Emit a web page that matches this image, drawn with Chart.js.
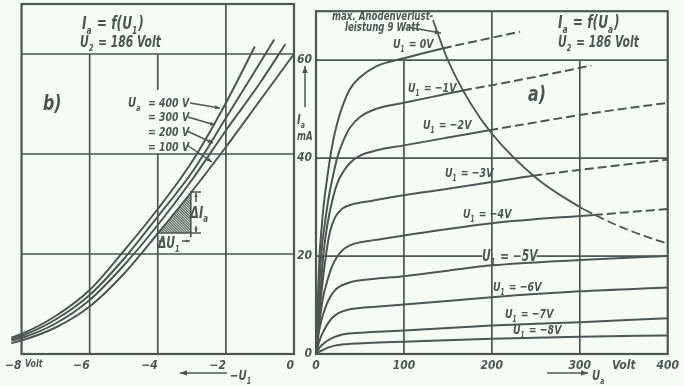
<!DOCTYPE html>
<html><head><meta charset="utf-8">
<script src="https://cdn.jsdelivr.net/npm/chart.js@4.4.0/dist/chart.umd.min.js"></script>
<style>
html,body{margin:0;padding:0;background:#f7fbf5;}
#wrap{position:relative;width:684px;height:386px;overflow:hidden;background:#f7fbf5;}
canvas{position:absolute;left:0;top:0;}
</style></head><body>
<div id="wrap"><canvas id="cb" width="684" height="386"></canvas><canvas id="ca" width="684" height="386"></canvas></div>
<script>
// ---------- Panel b): Ia = f(U1), curves for Ua (V) ----------
const b_Ua = [400, 300, 200, 100];
const b_400 = [[-8.3,3.3],[-8,4.0],[-7,7.6],[-6,12.8],[-5,20.6],[-4,29.0],[-3,38.4],[-2,50.2],[-1.15,61.5]];
const b_300 = [[-8.3,3.0],[-8,3.6],[-7,6.9],[-6,11.8],[-5,19.0],[-4,27.5],[-3,36.3],[-2,47.2],[-1,58.2],[-0.58,62.9]];
const b_200 = [[-8.3,2.7],[-8,3.2],[-7,6.1],[-6,10.8],[-5,17.7],[-4,25.8],[-3,34.8],[-2,44.7],[-1,54.2],[-0.25,62.0]];
const b_100 = [[-8.3,2.2],[-8,2.7],[-7,5.3],[-6,9.5],[-5,16.0],[-4,24.1],[-3,32.5],[-2,41.4],[-1,50.7],[0,60.0]];
const b_triangle = [[-4,24.2],[-3.03,24.2],[-3.03,32.4]];
const b_xticks = [-8,-6,-4,-2,0];
const b_xtickLabels = ['\u22128','\u22126','\u22124','\u22122','0'];

// ---------- Panel a): Ia = f(Ua), curves for U1 (V) ----------
const a_U1 = [0,-1,-2,-3,-4,-5,-6,-7,-8];
const a_0V  = [[0,0],[2,11],[4,20],[6,25],[9,30.8],[12,35],[16,40],[20,44],[24,47],[29,50],[38.6,54.1],[50,56.5],[69,58.8],[100,60.4],[144,62.4],[190,64.2],[232,65.8]];
const a_m1V = [[0,0],[3,11],[6,20.5],[10,26.5],[14,31.5],[19.5,36.5],[24,40],[31,43.5],[38.6,46.2],[50,48.4],[69,50.1],[100,51.3],[140,52.8],[167,53.8],[200,54.9],[250,56.6],[313,58.9]];
const a_m2V = [[0,0],[4,10],[8.7,20.8],[13,26.5],[19.7,32.2],[25,35.2],[31,37.2],[38.6,39.0],[50,40.5],[69,41.6],[100,42.6],[150,44.2],[197,45.7],[250,47.3],[300,48.8],[400,51.3]];
const a_m3V = [[0,0],[4,8.5],[8,15.5],[12,21],[16,25],[22,28],[30,29.7],[42,30.6],[64,31.3],[100,32.4],[141,33.5],[200,35.1],[247,36.4],[300,37.6],[400,39.7]];
const a_m4V = [[0,0],[4,6.5],[8,11.5],[13.8,15.5],[18,17.8],[23.5,19.7],[30,21.2],[38.6,22.2],[50,22.8],[64,23.2],[100,24.2],[200,26.7],[316,28.4],[400,29.6]];
const a_m5V = [[0,0],[3,4.2],[6,6.8],[9,8.6],[12,10.1],[16,11.6],[21,12.9],[27,13.8],[35,14.4],[42,14.8],[64,15.3],[100,15.9],[150,17.0],[200,18.1],[300,19.2],[400,20.0]];
const a_m6V = [[0,0],[3,2.2],[6,3.7],[9,4.8],[13,6.1],[18.6,7.4],[25,8.3],[35,9.0],[50,9.4],[64,9.6],[100,10.1],[200,11.6],[300,12.8],[400,13.6]];
const a_m7V = [[0,0],[4,1.3],[8,2.0],[13,2.7],[20,3.4],[30,4.0],[45,4.3],[64,4.5],[100,4.8],[200,5.8],[300,6.5],[400,7.3]];
const a_m8V = [[0,0],[4,0.5],[9,0.9],[15,1.4],[23.5,1.8],[40,2.1],[64,2.3],[100,2.5],[200,3.1],[300,3.5],[400,3.8]];
// Ua where each curve crosses the 9 W dissipation limit (dashed beyond)
const a_dashFrom = [144, 167, 197, 247, 316, null, null, null, null];
// max. anode dissipation 9 W
const a_limit = [[133,68.2],[150,60],[175,51.4],[200,45],[250,36],[300,30],[305,29.5],[350,25.7],[400,22.5],[414,21.7]];
const a_limitDashFrom = 305;
const a_xticks = [0,100,200,300,350,400];
const a_xtickLabels = ['0','100','200','300','Volt','400'];
const a_yticks = [0,20,40,60];
const a_ytickLabels = ['0','20','40','60'];

// ---------- styling ----------
const INK = '#4e5654';
const FAMILY = '"DejaVu Sans Condensed", "DejaVu Sans", sans-serif';
const tickFont = {family: FAMILY, style: 'italic', weight: 'bold', size: 12};

function toXY(arr){ return arr.map(p => ({x: p[0], y: p[1]})); }
function curveDS(pts, dashFrom, width){
  const ds = {data: toXY(pts), borderColor: INK, borderWidth: width || 2, pointRadius: 0,
    cubicInterpolationMode: 'monotone', clip: false, fill: false};
  if (dashFrom != null) ds.segment = {borderDash: c => c.p0.parsed.x >= dashFrom - 1e-6 ? [9,4] : undefined};
  return ds;
}

function rich(ctx, str, x, y, size, sx){
  sx = sx || 0.8;
  const parts = [];
  for (let i = 0; i < str.length; i++){
    if (str[i] === '_'){ parts.push({t: str[i+1], sub: true}); i++; }
    else if (parts.length && !parts[parts.length-1].sub) parts[parts.length-1].t += str[i];
    else parts.push({t: str[i], sub: false});
  }
  ctx.save();
  ctx.translate(x, y); ctx.scale(sx, 1);
  ctx.fillStyle = INK; ctx.textBaseline = 'alphabetic'; ctx.textAlign = 'left';
  let cx = 0;
  for (const p of parts){
    const fs = p.sub ? size * 0.62 : size;
    ctx.font = 'italic bold ' + fs + 'px ' + FAMILY;
    ctx.fillText(p.t, cx, p.sub ? size * 0.28 : 0);
    cx += ctx.measureText(p.t).width + (p.sub ? 1 : 0);
  }
  ctx.restore();
}
function arrow(ctx, x1, y1, x2, y2, head){
  head = head === undefined ? 5 : head;
  ctx.save(); ctx.strokeStyle = INK; ctx.fillStyle = INK; ctx.lineWidth = 1.5;
  ctx.beginPath(); ctx.moveTo(x1, y1); ctx.lineTo(x2, y2); ctx.stroke();
  if (head > 0){
    const a = Math.atan2(y2 - y1, x2 - x1);
    ctx.beginPath(); ctx.moveTo(x2, y2);
    ctx.lineTo(x2 - head * Math.cos(a) + head * 0.4 * Math.sin(a), y2 - head * Math.sin(a) - head * 0.4 * Math.cos(a));
    ctx.lineTo(x2 - head * Math.cos(a) - head * 0.4 * Math.sin(a), y2 - head * Math.sin(a) + head * 0.4 * Math.cos(a));
    ctx.closePath(); ctx.fill();
  }
  ctx.restore();
}
function drawGrid(chart, g){
  const ctx = chart.ctx, xs = chart.scales.x, ys = chart.scales.y, ca = chart.chartArea;
  ctx.save(); ctx.strokeStyle = INK; ctx.lineWidth = 1.7;
  ctx.beginPath();
  for (const h of g.h){ const y = ys.getPixelForValue(h[0]); ctx.moveTo(xs.getPixelForValue(h[1]), y); ctx.lineTo(xs.getPixelForValue(h[2]), y); }
  for (const v of g.v){ const x = xs.getPixelForValue(v[0]); ctx.moveTo(x, ys.getPixelForValue(v[1])); ctx.lineTo(x, ys.getPixelForValue(v[2])); }
  ctx.stroke();
  ctx.lineWidth = 2.2;
  ctx.strokeRect(ca.left, ca.top, ca.right - ca.left, ca.bottom - ca.top);
  ctx.restore();
}
function decor(grid, extras){
  return {id: 'decor', beforeDatasetsDraw(chart){ drawGrid(chart, grid); }, afterDatasetsDraw(chart){ extras(chart); }};
}

// ---------- left chart b) ----------
const bGrid = {h: [[20,-8,0],[40,-8,0],[60,-8,0]], v: [[-6,0,60],[-4,0,40],[-4,52.8,60],[-2,0,70]]};
function bExtras(chart){
  const ctx = chart.ctx, xs = chart.scales.x, ys = chart.scales.y;
  // hatched triangle
  const P = b_triangle.map(p => [xs.getPixelForValue(p[0]), ys.getPixelForValue(p[1])]);
  ctx.save();
  ctx.beginPath(); ctx.moveTo(P[0][0],P[0][1]); ctx.lineTo(P[1][0],P[1][1]); ctx.lineTo(P[2][0],P[2][1]); ctx.closePath();
  ctx.save(); ctx.clip();
  ctx.strokeStyle = INK; ctx.lineWidth = 1.1; ctx.beginPath();
  for (let k = -60; k < 60; k += 2.6){ ctx.moveTo(P[0][0] + k, P[2][1]); ctx.lineTo(P[0][0] + k + 45, P[2][1] + 45); }
  ctx.stroke(); ctx.restore();
  ctx.strokeStyle = INK; ctx.lineWidth = 1.6; ctx.beginPath();
  ctx.moveTo(P[0][0]-1, P[0][1]); ctx.lineTo(P[1][0], P[1][1]); ctx.lineTo(P[2][0], P[2][1]-1); ctx.moveTo(P[1][0], P[1][1]); ctx.lineTo(P[1][0], P[1][1]+4);
  ctx.moveTo(191, P[2][1]); ctx.lineTo(201, P[2][1]); ctx.moveTo(191, P[1][1]); ctx.lineTo(201, P[1][1]);
  ctx.stroke(); ctx.restore();
  arrow(ctx, 196, 202, 196, P[2][1]+1, 4);
  arrow(ctx, 196, 226, 196, P[1][1]-1, 4);
  arrow(ctx, 160, 241, P[0][0]+1, 241, 4);
  arrow(ctx, 182, 241, P[1][0]-1, 241, 4);
  const T = [
    ['I_a = f(U_1)', 82, 29, 17], ['U_2 = 186 Volt', 80, 47, 15], ['b)', 43, 110, 22],
    ['U_a', 128, 107, 14], ['= 400 V', 148, 107, 13], ['= 300 V', 148, 121, 13], ['= 200 V', 148, 136, 13], ['= 100 V', 148, 151, 13],
    ['\u0394I_a', 190, 218, 16], ['\u0394U_1', 158, 248, 15], ['Volt', 25, 367, 11], ['\u2212U_1', 230, 380, 14]
  ];
  for (const t of T) rich(ctx, t[0], t[1], t[2], t[3]);
  const A = [[190,103,220,108],[188,117,215,125],[187,131,213,143],[187,145,212,162]];
  for (const a of A) arrow(ctx, a[0], a[1], a[2], a[3], 5);
  arrow(ctx, 227, 373, 180, 373, 7);
}

new Chart(document.getElementById('cb'), {
  type: 'line',
  data: {datasets: [curveDS(b_400), curveDS(b_300), curveDS(b_200), curveDS(b_100)]},
  options: {
    responsive: false, animation: false, devicePixelRatio: 1,
    layout: {padding: {left: 14, right: 390, top: 4, bottom: 0}},
    plugins: {legend: {display: false}, tooltip: {enabled: false}},
    scales: {
      x: {type: 'linear', min: -8, max: 0, grid: {display: false, drawTicks: false}, border: {display: false},
          afterBuildTicks: s => { s.ticks = b_xticks.map(v => ({value: v})); },
          afterFit: s => { s.height = 32; },
          ticks: {callback: v => b_xtickLabels[b_xticks.indexOf(v)], align: 'end', padding: 5, color: INK, font: tickFont, autoSkip: false, maxRotation: 0}},
      y: {type: 'linear', min: 0, max: 70, display: false}
    }
  },
  plugins: [decor(bGrid, bExtras)]
});

// ---------- right chart a) ----------
const aGrid = {h: [[20,0,189],[20,251,400],[40,0,400],[60,0,400]], v: [[100,0,60],[200,0,70],[300,0,60]]};
function aExtras(chart){
  const ctx = chart.ctx;
  const T = [
    ['max. Anodenverlust-', 332, 20, 12], ['leistung 9 Watt', 345, 31, 12],
    ['U_1 = 0V', 393, 48, 13], ['U_1 = \u22121V', 408, 92, 13], ['U_1 = \u22122V', 423, 129, 13], ['U_1 = \u22123V', 445, 177, 13],
    ['U_1 = \u22124V', 463, 218, 13], ['U_1 = \u22125V', 482, 261, 15], ['U_1 = \u22126V', 493, 291, 13],
    ['U_1 = \u22127V', 505, 318, 13], ['U_1 = \u22128V', 513, 334, 13],
    ['a)', 528, 101, 22], ['I_a = f(U_a)', 558, 28, 17], ['U_2 = 186 Volt', 558, 47, 15],
    ['I_a', 297, 124, 14], ['mA', 297, 140, 12], ['U_a', 592, 380, 14]
  ];
  for (const t of T) rich(ctx, t[0], t[1], t[2], t[3]);
  arrow(ctx, 407, 27, 441, 33, 6);
  arrow(ctx, 305, 107, 305, 66, 7);
  arrow(ctx, 547, 373, 588, 373, 7);
}
const aCurves = [a_0V, a_m1V, a_m2V, a_m3V, a_m4V, a_m5V, a_m6V, a_m7V, a_m8V];
const aSets = aCurves.map((c, i) => curveDS(c, a_dashFrom[i]));
aSets.push(curveDS(a_limit, a_limitDashFrom, 1.8));

new Chart(document.getElementById('ca'), {
  type: 'line',
  data: {datasets: aSets},
  options: {
    responsive: false, animation: false, devicePixelRatio: 1,
    layout: {padding: {left: 296, right: 16, top: 4, bottom: 0}},
    plugins: {legend: {display: false}, tooltip: {enabled: false}},
    scales: {
      x: {type: 'linear', min: 0, max: 400, grid: {display: false, drawTicks: false}, border: {display: false},
          afterBuildTicks: s => { s.ticks = a_xticks.map(v => ({value: v})); },
          afterFit: s => { s.height = 32; },
          ticks: {callback: v => a_xtickLabels[a_xticks.indexOf(v)], padding: 5, color: INK, font: tickFont, autoSkip: false, maxRotation: 0}},
      y: {type: 'linear', min: 0, max: 70, position: 'left', grid: {display: false, drawTicks: false}, border: {display: false},
          afterBuildTicks: s => { s.ticks = a_yticks.map(v => ({value: v})); },
          afterFit: s => { s.width = 20; },
          ticks: {callback: v => a_ytickLabels[a_yticks.indexOf(v)], padding: 4, color: INK, font: tickFont, autoSkip: false}}
    }
  },
  plugins: [decor(aGrid, aExtras)]
});
</script>
</body></html>
